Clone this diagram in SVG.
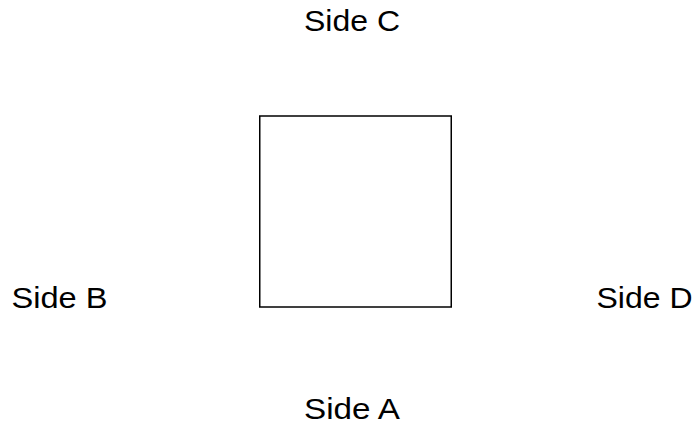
<svg xmlns="http://www.w3.org/2000/svg" width="695" height="425" viewBox="0 0 695 425">
<style>
.lbl{font-family:"Liberation Sans",Arial,sans-serif;font-size:29.5px;fill:#000;text-anchor:middle}
.box{fill:#fff;stroke:#000;stroke-width:1.5}
</style>
<rect width="695" height="425" fill="#fff"/>
<g id="square"><rect class="box" x="259.75" y="116" width="191.5" height="191"/></g>
<g id="sideC"><text class="lbl" x="352" y="31" textLength="96" lengthAdjust="spacingAndGlyphs">Side C</text></g>
<g id="sideB"><text class="lbl" x="59.5" y="308" textLength="96" lengthAdjust="spacingAndGlyphs">Side B</text></g>
<g id="sideD"><text class="lbl" x="644.5" y="308" textLength="96" lengthAdjust="spacingAndGlyphs">Side D</text></g>
<g id="sideA"><text class="lbl" x="352" y="419" textLength="96" lengthAdjust="spacingAndGlyphs">Side A</text></g>
<g id="connectors"></g>
</svg>
